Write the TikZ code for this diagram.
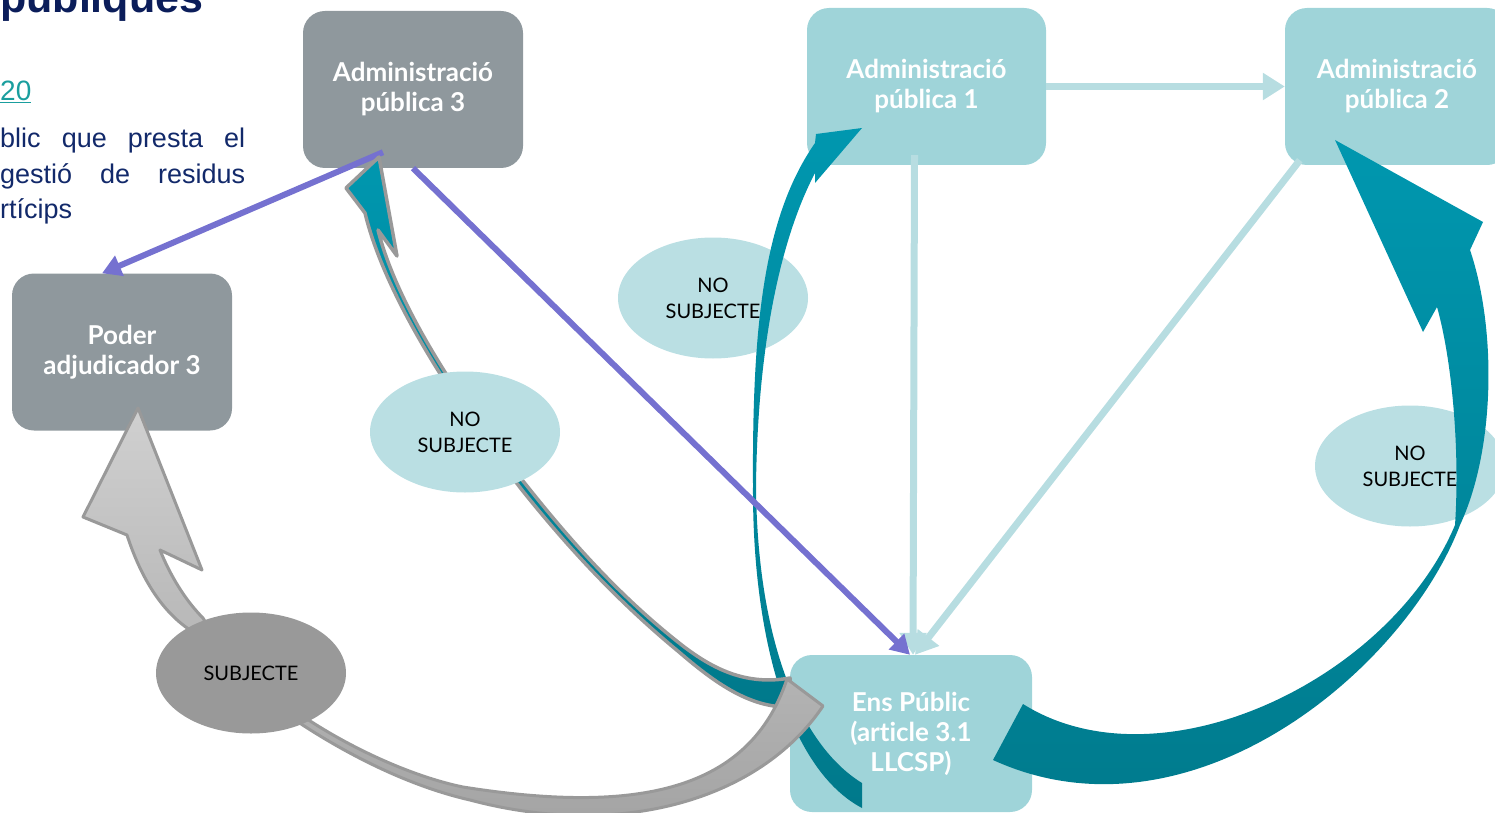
\documentclass[tikz,border=0pt]{standalone}
\usepackage{fontspec}
\setmainfont{Lato}[Ligatures=NoCommon]
\newfontfamily\arialfont{Liberation Sans}
\usetikzlibrary{arrows.meta,shapes.geometric,positioning}
\usepackage{xcolor}

\definecolor{boxgray}{HTML}{8F989D}
\definecolor{boxteal}{HTML}{9FD4D9}
\definecolor{lineteal}{HTML}{B7DDE1}
\definecolor{elteal}{HTML}{BADFE3}
\definecolor{elgray}{HTML}{999999}
\definecolor{purp}{HTML}{7571D0}
\definecolor{tealA}{HTML}{0097AF}
\definecolor{tealB}{HTML}{00798B}
\definecolor{graylt}{HTML}{D0D0D0}
\definecolor{graydk}{HTML}{A2A2A2}
\definecolor{navy}{HTML}{12296A}
\definecolor{navyhead}{HTML}{0B1D5A}
\definecolor{linkteal}{HTML}{1A9E9E}

\begin{document}
\begin{tikzpicture}[x=1pt,y=-1pt,
		box/.style={rounded corners=22pt, minimum width=220pt, minimum height=157pt, inner sep=0pt, align=center, text=white, font=\bfseries\fontsize{26}{30}\selectfont},
		graybox/.style={box, fill=boxgray},
		tealbox/.style={box, fill=boxteal},
		bubble/.style={ellipse, minimum width=190pt, minimum height=121pt, inner sep=0pt, align=center, font=\fontsize{20}{26}\selectfont},
		nobubble/.style={bubble, fill=elteal},
		lightline/.style={line width=7pt, lineteal, -{Triangle[length=22pt,width=26pt]}},
		purpline/.style={line width=6pt, purp, -{Triangle[length=19pt,width=21pt]}},
		textline/.style={anchor=base west, inner sep=0pt}]
		
		\useasboundingbox (0,0) rectangle (1495,813);
		\clip (0,0) rectangle (1495,813);
		
		%a3
		\node[graybox] (a3) at (413,89.5) {Administració\\pública 3};
		%p3
		\node[graybox] (p3) at (122,352) {Poder\\adjudicador 3};
		%a1
		\node[tealbox, minimum width=239pt] (a1) at (926.5,86.5) {Administració\\pública 1};
		%a2
		\node[tealbox, minimum width=224pt] (a2) at (1397,86.5) {Administració\\pública 2};
		%ens
		\node[tealbox, minimum width=242pt] (ens) at (911,733.5) {Ens Públic\\(article 3.1\\LLCSP)};
		
		%ns1
		\node[nobubble] (ns1) at (713,298) {NO\\SUBJECTE};
		%ns3
		\node[nobubble] (ns3) at (1410,466) {NO\\SUBJECTE};
		
		\draw[lightline] (a1.east) -- (a2.west);
		\draw[lightline] ([xshift=-12pt,yshift=10pt]a1.south) -- ([xshift=2pt]ens.north);
		\draw[lightline] ([shift={(15pt,5pt)}]a2.south west) -- ([xshift=4pt]ens.north);
		
		% ens -> a1
		\shade[top color=tealA, middle color=tealA, bottom color=tealB] (862,808) .. controls (790,770) and (752,640) .. (753,485) .. controls (752,320) and (765,215) .. (815,143) -- (816,134) -- (862,128) -- (815,183) -- (815,173) .. controls (785,230) and (758,330) .. (756,485) .. controls (757,640) and (800,745) .. (862,783) -- cycle;
		% ens -> a2
		\shade[top color=tealA, middle color=tealA, bottom color=tealB] (1023,704) .. controls (1160,790) and (1390,680) .. (1455,525) .. controls (1460,450) and (1452,360) .. (1437,307) -- (1423,332) -- (1335,140) -- (1483,222) -- (1470,250) .. controls (1497,330) and (1495,450) .. (1460,525) .. controls (1405,670) and (1190,850) .. (993,760) -- cycle;
		
		\draw[purpline] ([shift={(-30pt,16pt)}]a3.south) -- ([xshift=-20pt]p3.north);
		\draw[purpline] (a3.south) -- ([xshift=-1pt]ens.north);
		
		% ens -> a3
		\draw[elgray, line width=3.5pt, line join=round, top color=tealA, middle color=tealA, bottom color=tealB] (790,678) .. controls (745,686) and (712,668) .. (683,646) .. controls (620,597) and (570,540) .. (527,486) .. controls (468,413) and (398,310) .. (378,230) -- (397,256) -- (379,157) -- (346,188) -- (365,213) .. controls (386,300) and (460,410) .. (522,490) .. controls (566,545) and (616,600) .. (679,652) .. controls (715,683) and (750,708) .. (790,707) -- cycle;
		% ens -> p3
		\draw[elgray, line width=3pt, line join=round, top color=graylt, bottom color=graydk] (787,679) .. controls (750,790) and (640,815) .. (463,787) .. controls (380,770) and (250,700) .. (203,618) .. controls (185,600) and (170,575) .. (160,550) -- (202,570) -- (138,408) -- (83,517) -- (127,535) .. controls (140,575) and (160,610) .. (190,630) .. controls (240,690) and (360,775) .. (470,800) .. controls (620,840) and (760,800) .. (823,706) -- cycle;
		
		%ns2
		\node[nobubble] (ns2) at (465,432) {NO\\SUBJECTE};
		%sub
		\node[bubble, fill=elgray] (sub) at (251,673) {SUBJECTE};
		
		% text on the left
		\node[textline, text=navyhead, font=\arialfont\bfseries\fontsize{43}{43}\selectfont] (tit) at (0,13) {públiques};
		\node[textline, text=linkteal, font=\arialfont\fontsize{28}{28}\selectfont] (lnk) at (0,101) {\underline{20}};
		\node[textline, text=navy, font=\arialfont\fontsize{27}{27}\selectfont] (l1) at (0,148) {\hbox to 245pt{blic\hfill que\hfill presta\hfill el}};
		\node[textline, text=navy, font=\arialfont\fontsize{27}{27}\selectfont] (l2) at (0,183) {\hbox to 245pt{gestió\hfill de\hfill residus}};
		\node[textline, text=navy, font=\arialfont\fontsize{27}{27}\selectfont] (l3) at (0,218) {rtícips};
		
\end{tikzpicture}
\end{document}
